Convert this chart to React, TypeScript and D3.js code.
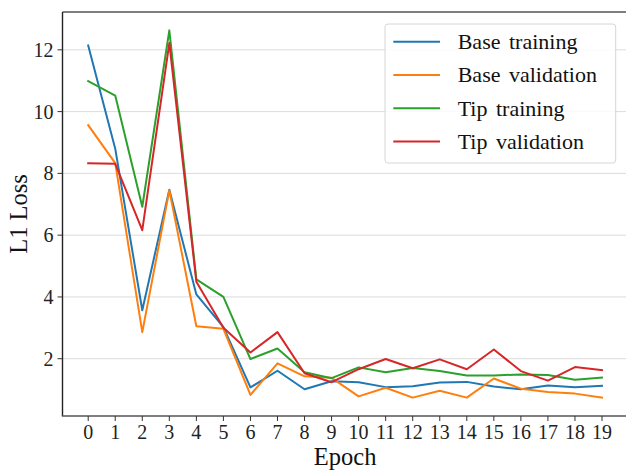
import React from "react";
import * as d3 from "d3";

const epochs = d3.range(0, 20);
const xTicks = epochs;
const yTicks = [2, 4, 6, 8, 10, 12];

const baseTraining = [12.14, 8.8, 3.57, 7.47, 4.08, 3.02, 1.07, 1.61, 1.01, 1.27, 1.24, 1.08, 1.11, 1.23, 1.25, 1.1, 1.01, 1.13, 1.08, 1.12];
const baseValidation = [9.56, 8.33, 2.86, 7.45, 3.05, 2.97, 0.83, 1.85, 1.43, 1.38, 0.78, 1.06, 0.74, 0.96, 0.74, 1.36, 1.03, 0.92, 0.87, 0.74];
const tipTraining = [10.99, 10.52, 6.92, 12.63, 4.57, 4.0, 1.99, 2.33, 1.56, 1.37, 1.72, 1.56, 1.7, 1.6, 1.46, 1.46, 1.49, 1.47, 1.32, 1.39];
const tipValidation = [8.33, 8.31, 6.16, 12.22, 4.49, 3.0, 2.2, 2.86, 1.53, 1.24, 1.66, 1.99, 1.69, 1.98, 1.66, 2.3, 1.6, 1.29, 1.73, 1.63];

const seriesNames = ["Base training", "Base validation", "Tip training", "Tip validation"];
const seriesColors = ["#1f77b4", "#ff7f0e", "#2ca02c", "#d62728"];

const W = 626;
const H = 472;
const left = 62.5;
const right = 627.7;
const top = 12;
const bottom = 416;

export default function App() {
  const allSeries = [baseTraining, baseValidation, tipTraining, tipValidation];
  const allVals = allSeries.flat();
  const minV = d3.min(allVals) as number;
  const maxV = d3.max(allVals) as number;
  const pad = (maxV - minV) * 0.05;
  const x = d3.scaleLinear().domain([-0.95, 19.95]).range([left, right]);
  const y = d3.scaleLinear().domain([minV - pad, maxV + pad]).range([bottom, top]);
  const line = d3
    .line<number>()
    .x((_, i) => x(epochs[i]))
    .y((d) => y(d));

  const serif = "'Liberation Serif', 'Times New Roman', serif";
  const legendX = 385;
  const legendY = 24;
  const rowH = 33.3;

  return (
    <svg
      width={W}
      height={H}
      style={{ position: "absolute", left: 0, top: 0, background: "#fff" }}
      fontFamily={serif}
    >
      <defs>
        <clipPath id="plotclip">
          <rect x={left} y={top} width={right - left} height={bottom - top} />
        </clipPath>
      </defs>
      {yTicks.map((t) => (
        <line key={"g" + t} x1={left} x2={right} y1={y(t)} y2={y(t)} stroke="#dcdcdc" strokeWidth={1} />
      ))}
      <g clipPath="url(#plotclip)">
        {allSeries.map((s, i) => (
          <path key={i} d={line(s) as string} fill="none" stroke={seriesColors[i]} strokeWidth={2} strokeLinejoin="round" strokeLinecap="square" />
        ))}
      </g>
      {/* spines */}
      <line x1={left} x2={right} y1={top} y2={top} stroke="#000" strokeWidth={1.2} />
      <line x1={left} x2={left} y1={top} y2={bottom} stroke="#222" strokeWidth={1.4} />
      <line x1={left - 0.7} x2={right} y1={bottom} y2={bottom} stroke="#555" strokeWidth={1.6} />
      {/* y ticks */}
      {yTicks.map((t) => (
        <g key={"y" + t}>
          <line x1={left - 5} x2={left} y1={y(t)} y2={y(t)} stroke="#333" strokeWidth={1} />
          <text x={left - 9} y={y(t)} dy="0.35em" textAnchor="end" fontSize={20} fill="#222">
            {t}
          </text>
        </g>
      ))}
      {/* x ticks */}
      {xTicks.map((t) => (
        <g key={"x" + t}>
          <line x1={x(t)} x2={x(t)} y1={bottom} y2={bottom + 5} stroke="#333" strokeWidth={1} />
          <text x={x(t)} y={438.5} textAnchor="middle" fontSize={20} fill="#222">
            {t}
          </text>
        </g>
      ))}
      <text x={(left + right) / 2} y={464.5} textAnchor="middle" fontSize={24.5} fill="#111">
        Epoch
      </text>
      <text
        transform={`translate(27, ${(top + bottom) / 2}) rotate(-90)`}
        textAnchor="middle"
        fontSize={24.5}
        fill="#111"
      >
        L1 Loss
      </text>
      {/* legend */}
      <rect x={legendX} y={legendY} width={230.7} height={139} rx={3} fill="#fff" fillOpacity={0.85} stroke="#d6d6d6" strokeWidth={1} />
      {seriesNames.map((n, i) => {
        const cy = 41.7 + i * rowH;
        return (
          <g key={n}>
            <line x1={393.3} x2={440} y1={cy} y2={cy} stroke={seriesColors[i]} strokeWidth={2} />
            <text x={457.7} y={cy} dy="0.33em" fontSize={22} fill="#111" wordSpacing={3}>
              {n}
            </text>
          </g>
        );
      })}
    </svg>
  );
}
